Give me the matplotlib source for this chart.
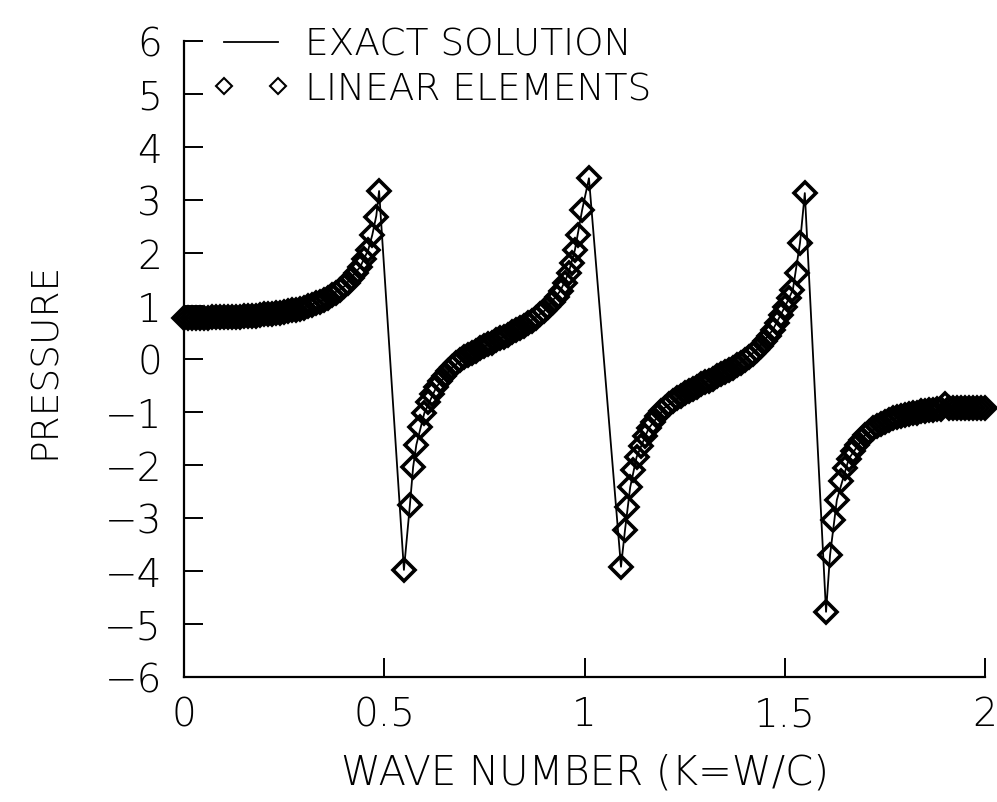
import numpy as np
import matplotlib
matplotlib.use("Agg")
import matplotlib.pyplot as plt
from matplotlib.legend_handler import HandlerLine2D

# pressure vs wave number: exact solution and linear finite elements
lin_x = [0.00, 0.01, 0.02, 0.03, 0.04, 0.05, 0.06, 0.07, 0.08, 0.09,
         0.10, 0.11, 0.12, 0.13, 0.14, 0.15, 0.16, 0.17, 0.18, 0.19,
         0.20, 0.21, 0.22, 0.23, 0.24, 0.25, 0.26, 0.27, 0.28, 0.29,
         0.30, 0.31, 0.32, 0.33, 0.34, 0.35, 0.36, 0.37, 0.38, 0.39,
         0.40, 0.41, 0.42, 0.43, 0.44, 0.45, 0.46, 0.47, 0.479, 0.487,
         0.549, 0.564, 0.572, 0.58, 0.59, 0.60, 0.61, 0.62, 0.63, 0.64,
         0.65, 0.66, 0.67, 0.68, 0.69, 0.70, 0.71, 0.72, 0.73, 0.74,
         0.75, 0.76, 0.77, 0.78, 0.79, 0.80, 0.81, 0.82, 0.83, 0.84,
         0.85, 0.86, 0.87, 0.88, 0.89, 0.90, 0.91, 0.92, 0.93, 0.94,
         0.95, 0.96, 0.968, 0.976, 0.984, 0.994, 1.011,
         1.091, 1.101, 1.106, 1.114, 1.121, 1.13, 1.14, 1.15, 1.16, 1.17,
         1.18, 1.19, 1.20, 1.21, 1.22, 1.23, 1.24, 1.25, 1.26, 1.27,
         1.28, 1.29, 1.30, 1.31, 1.32, 1.33, 1.34, 1.35, 1.36, 1.37,
         1.38, 1.39, 1.40, 1.41, 1.42, 1.43, 1.44, 1.45, 1.46, 1.47,
         1.48, 1.49, 1.50, 1.51, 1.518, 1.53, 1.538, 1.55,
         1.603, 1.613, 1.62, 1.63, 1.64, 1.65, 1.66, 1.67, 1.68, 1.69,
         1.70, 1.71, 1.72, 1.73, 1.74, 1.75, 1.76, 1.77, 1.78, 1.79,
         1.80, 1.81, 1.82, 1.83, 1.84, 1.85, 1.86, 1.87, 1.88, 1.89,
         1.90, 1.91, 1.92, 1.93, 1.94, 1.95, 1.96, 1.97, 1.98, 1.99, 2.00]
lin_p = [0.78, 0.78, 0.78, 0.78, 0.78, 0.78, 0.78, 0.79, 0.79, 0.79,
         0.79, 0.79, 0.80, 0.80, 0.80, 0.81, 0.81, 0.82, 0.82, 0.83,
         0.84, 0.84, 0.85, 0.86, 0.87, 0.89, 0.90, 0.92, 0.93, 0.95,
         0.97, 1.00, 1.02, 1.05, 1.08, 1.12, 1.16, 1.20, 1.25, 1.31,
         1.37, 1.44, 1.53, 1.62, 1.74, 1.88, 2.06, 2.34, 2.68, 3.17,
         -3.98, -2.75, -2.04, -1.62, -1.28, -1.02, -0.82, -0.66, -0.53, -0.42,
         -0.32, -0.23, -0.15, -0.08, -0.02, 0.03, 0.08, 0.12, 0.16, 0.20,
         0.24, 0.28, 0.31, 0.35, 0.39, 0.42, 0.46, 0.50, 0.54, 0.58,
         0.63, 0.67, 0.72, 0.78, 0.84, 0.91, 0.98, 1.07, 1.17, 1.29,
         1.44, 1.62, 1.81, 2.06, 2.34, 2.81, 3.41,
         -3.92, -3.23, -2.79, -2.42, -2.09, -1.85, -1.64, -1.45, -1.31, -1.19,
         -1.08, -0.99, -0.92, -0.85, -0.79, -0.74, -0.69, -0.64, -0.60, -0.56,
         -0.52, -0.48, -0.44, -0.41, -0.37, -0.33, -0.29, -0.25, -0.21, -0.17,
         -0.12, -0.07, -0.02, 0.04, 0.10, 0.17, 0.25, 0.34, 0.44, 0.55,
         0.68, 0.83, 0.98, 1.15, 1.30, 1.62, 2.19, 3.13,
         -4.77, -3.70, -3.04, -2.66, -2.30, -2.06, -1.88, -1.74, -1.62, -1.52,
         -1.44, -1.37, -1.31, -1.26, -1.22, -1.18, -1.15, -1.12, -1.10, -1.08,
         -1.06, -1.04, -1.02, -1.01, -0.99, -0.98, -0.97, -0.96, -0.95, -0.94,
         -0.84, -0.93, -0.93, -0.92, -0.92, -0.92, -0.92, -0.92, -0.92, -0.92, -0.92]

exact_x = [0.00, 0.05, 0.10, 0.15, 0.20, 0.25, 0.30, 0.35, 0.40, 0.44,
           0.46, 0.47, 0.48, 0.487, 0.549, 0.564, 0.572, 0.58, 0.60, 0.63,
           0.67, 0.72, 0.78, 0.84, 0.90, 0.94, 0.96, 0.976, 0.994, 1.011,
           1.091, 1.101, 1.114, 1.13, 1.16, 1.20, 1.26, 1.32, 1.38, 1.43,
           1.47, 1.50, 1.52, 1.538, 1.55, 1.603, 1.613, 1.63, 1.66, 1.70,
           1.76, 1.83, 1.90, 1.96, 2.00]
exact_p = [0.78, 0.78, 0.79, 0.81, 0.84, 0.89, 0.97, 1.12, 1.37, 1.74,
           2.06, 2.34, 2.70, 3.17, -3.98, -2.75, -2.04, -1.62, -1.02, -0.53,
           -0.15, 0.12, 0.35, 0.58, 0.91, 1.29, 1.62, 2.06, 2.81, 3.41,
           -3.92, -3.23, -2.42, -1.85, -1.31, -0.92, -0.60, -0.37, -0.12, 0.17,
           0.55, 0.98, 1.30, 2.19, 3.13, -4.77, -3.70, -2.66, -1.88, -1.44,
           -1.15, -1.01, -0.93, -0.92, -0.92]

x_ticks = [0, 0.5, 1, 1.5, 2]
x_tick_labels = ["0", "0.5", "1", "1.5", "2"]
y_ticks = list(range(-6, 7))

plt.rcParams['font.family'] = ['DejaVu Sans']
plt.rcParams['font.weight'] = 'light'

fig = plt.figure(figsize=(9.97, 8.03), dpi=100)
ax = fig.add_axes([0.1846, 0.1557, 0.8034, 0.792])

ax.plot(exact_x, exact_p, color='black', lw=1.3, label='EXACT SOLUTION', zorder=3)
ax.plot(lin_x, lin_p, ls='none', marker='D', ms=11, mfc='none', mec='black',
        mew=2.6, label='LINEAR ELEMENTS', zorder=2, clip_on=False)

ax.set_xlim(0, 2)
ax.set_ylim(-6, 6)
for side in ['top', 'right']:
    ax.spines[side].set_visible(False)
for side in ['left', 'bottom']:
    ax.spines[side].set_linewidth(1.6)

ax.set_xticks(x_ticks)
ax.set_xticklabels(x_tick_labels)
ax.set_yticks(y_ticks)
ax.tick_params(axis='both', direction='in', length=14, width=1.4, labelsize=28)
ax.tick_params(axis='x', pad=13)
ax.tick_params(axis='y', pad=16)

ax.set_xlabel('WAVE NUMBER (K=W/C)', fontsize=29, fontweight='light')
ax.set_ylabel('PRESSURE', fontsize=27, fontweight='light')
ax.xaxis.set_label_coords(0.5, -0.118)
ax.yaxis.set_label_coords(-0.152, 0.5)

leg = ax.legend(loc='upper left', bbox_to_anchor=(224 / 997, 1 - 28 / 803),
                bbox_transform=fig.transFigure, frameon=False, fontsize=27,
                handlelength=1.45, handletextpad=0.7, labelspacing=0.25,
                borderpad=0, borderaxespad=0, markerscale=0.72,
                handler_map={plt.Line2D: HandlerLine2D(marker_pad=0.0, numpoints=2)})
for h in leg.legend_handles:
    h.set_markeredgewidth(1.5)

fig.savefig('out.png', dpi=100)
